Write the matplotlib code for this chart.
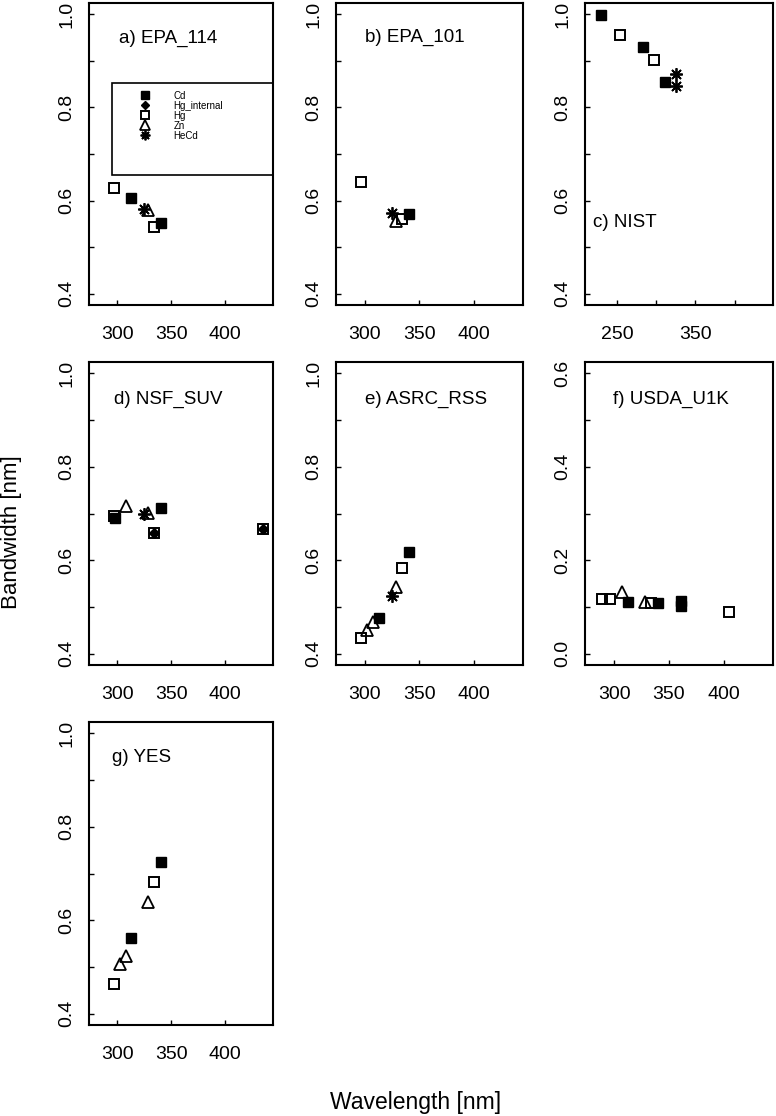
import numpy as np
import matplotlib
matplotlib.use("Agg")
import matplotlib.pyplot as plt
from matplotlib.lines import Line2D
from matplotlib.patches import Rectangle

plt.rcParams['font.family'] = ['Liberation Sans', 'DejaVu Sans']

# data: (wavelength nm, bandwidth nm) per lamp type
# a) EPA_114
a_cd = ([313.0, 340.4], [0.606, 0.553])
a_hg = ([296.7, 334.1], [0.626, 0.544])
a_zn = ([328.2], [0.579])
a_hecd = ([325.0], [0.583])
# b) EPA_101
b_cd = ([340.4], [0.572])
b_hg = ([296.7, 334.1], [0.639, 0.561])
b_zn = ([328.2], [0.557])
b_hecd = ([325.0], [0.574])
# c) NIST
c_cd = ([228.8, 283.0, 311.5], [0.998, 0.929, 0.855])
c_hg = ([253.7, 296.7], [0.956, 0.902])
c_hecd = ([325.0, 325.0], [0.871, 0.845])
# d) NSF_SUV
d_cd = ([298.0, 340.4], [0.690, 0.711])
d_hgint = ([334.1, 435.8], [0.659, 0.667])
d_hg = ([296.7, 334.1, 435.8], [0.695, 0.659, 0.667])
d_zn = ([307.6, 328.2], [0.717, 0.701])
d_hecd = ([325.0], [0.700])
# e) ASRC_RSS
e_cd = ([313.0, 340.4], [0.476, 0.617])
e_hg = ([296.7, 334.1], [0.434, 0.583])
e_zn = ([302.0, 307.6, 328.2], [0.450, 0.467, 0.543])
e_hecd = ([325.0], [0.524])
# f) USDA_U1K
f_cd = ([313.0, 340.4, 361.0, 361.0], [0.110, 0.108, 0.112, 0.103])
f_hg = ([289.4, 296.7, 334.1, 404.7], [0.117, 0.117, 0.108, 0.090])
f_zn = ([307.6, 328.2], [0.132, 0.111])
# g) YES
g_cd = ([313.0, 340.4], [0.562, 0.724])
g_hg = ([296.7, 334.1], [0.464, 0.681])
g_zn = ([302.0, 307.6, 328.2], [0.507, 0.523, 0.640])

titles = ["a) EPA_114", "b) EPA_101", "c) NIST", "d) NSF_SUV",
          "e) ASRC_RSS", "f) USDA_U1K", "g) YES"]
legend_names = ["Cd", "Hg_internal", "Hg", "Zn", "HeCd"]

styles = {
    "Cd": dict(marker="s", ms=7.5, mfc="black", mec="black", mew=1.0),
    "Hg_internal": dict(marker="D", ms=5, mfc="black", mec="black", mew=1.0),
    "Hg": dict(marker="s", ms=7.5, mfc="none", mec="black", mew=1.4),
    "Zn": dict(marker="^", ms=8, mfc="none", mec="black", mew=1.3),
    "HeCd": dict(marker=(8, 2, 0), ms=9, mfc="none", mec="black", mew=1.3),
}

panels = [
    {"Hg": a_hg, "Zn": a_zn, "HeCd": a_hecd, "Cd": a_cd},
    {"Hg": b_hg, "Zn": b_zn, "HeCd": b_hecd, "Cd": b_cd},
    {"Hg": c_hg, "HeCd": c_hecd, "Cd": c_cd},
    {"Hg": d_hg, "Zn": d_zn, "HeCd": d_hecd, "Cd": d_cd, "Hg_internal": d_hgint},
    {"Hg": e_hg, "Zn": e_zn, "HeCd": e_hecd, "Cd": e_cd},
    {"Hg": f_hg, "Zn": f_zn, "Cd": f_cd},
    {"Hg": g_hg, "Zn": g_zn, "Cd": g_cd},
]

W, H = 776, 1116
fig = plt.figure(figsize=(W / 100, H / 100), dpi=100)

cols = [(89, 273), (336, 523), (585, 773)]
rows = [(3, 305), (362, 665), (722, 1025)]
title_pos = [(0.163, 0.884), (0.155, 0.887), (0.043, 0.272), (0.135, 0.878),
             (0.155, 0.875), (0.149, 0.875), (0.124, 0.884)]

axes = []
for i in range(7):
    x0, x1 = cols[i % 3]
    y0, y1 = rows[i // 3]
    ax = fig.add_axes([x0 / W, 1 - y1 / H, (x1 - x0) / W, (y1 - y0) / H])
    axes.append(ax)

    for name, (xs, ys) in panels[i].items():
        ax.plot(xs, ys, ls="none", **styles[name])

    if i == 2:
        ax.set_xlim(209, 449)
        ax.set_xticks([250, 300, 350, 400])
        ax.set_xticklabels(["250", "", "350", ""])
    else:
        ax.set_xlim(273.5, 445)
        ax.set_xticks([300, 350, 400])
        ax.set_xticklabels(["300", "350", "400"])

    if i == 5:
        ax.set_ylim(-0.024, 0.624)
        yt = np.round(np.arange(0.0, 0.61, 0.1), 1)
    else:
        ax.set_ylim(0.376, 1.024)
        yt = np.round(np.arange(0.4, 1.01, 0.1), 1)
    ax.set_yticks(yt)
    ax.set_yticklabels([f"{v:.1f}" if round(v * 10) % 2 == 0 else "" for v in yt])

    ax.tick_params(direction="in", length=3.5, width=1.0, labelsize=14,
                   top=False, right=False)
    ax.tick_params(axis="y", pad=10)
    ax.tick_params(axis="x", pad=15)
    plt.setp(ax.get_yticklabels(), rotation=90, va="center")
    for s in ax.spines.values():
        s.set_linewidth(1.5)

    tx, ty = title_pos[i]
    ax.text(tx, ty, titles[i], transform=ax.transAxes, fontsize=13.5,
            ha="left", va="center")

# legend box in panel a
ax = axes[0]
ax.add_patch(Rectangle((0.125, 0.43), 0.875, 0.305, transform=ax.transAxes,
                       fill=False, lw=1.2, ec="black", clip_on=False))
handles = [Line2D([], [], ls="none", **styles[n]) for n in legend_names]
for h, ms in zip(handles, [6, 4.5, 6, 6.5, 7]):
    h.set_markersize(ms)
ax.legend(handles, legend_names, loc="upper left", bbox_to_anchor=(0.265, 0.71),
          frameon=False, fontsize=7, borderpad=0, handlelength=1.5,
          handletextpad=2.2, labelspacing=0.0, borderaxespad=0)

fig.text(12 / W, 1 - 532 / H, "Bandwidth [nm]", rotation=90, fontsize=16,
         ha="center", va="center")
fig.text(416 / W, 1 - 1103 / H, "Wavelength [nm]", fontsize=16.5,
         ha="center", va="center")

fig.savefig("out.png", dpi=100)
